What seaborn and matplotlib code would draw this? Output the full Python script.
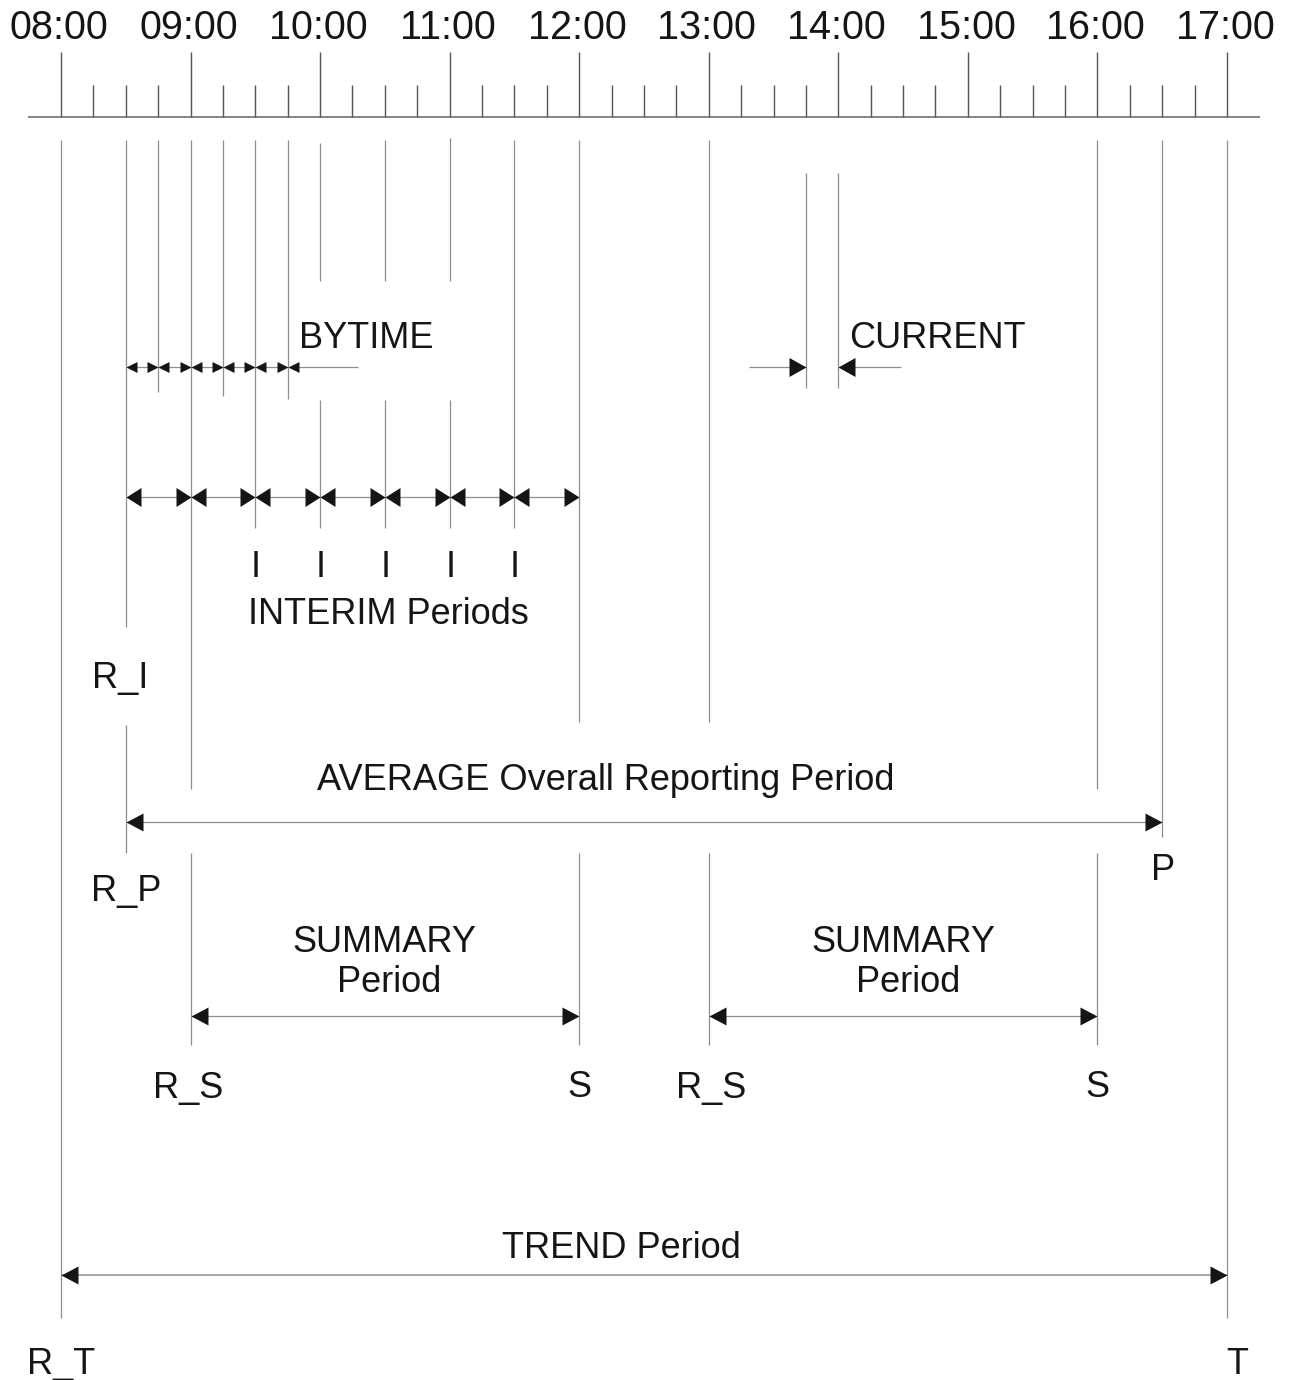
import numpy as np
import matplotlib
matplotlib.use("Agg")
import matplotlib.pyplot as plt
import seaborn as sns

# ---------------- data ----------------
hour_labels = ["08:00", "09:00", "10:00", "11:00", "12:00",
               "13:00", "14:00", "15:00", "16:00", "17:00"]
hour_values = [8, 9, 10, 11, 12, 13, 14, 15, 16, 17]
minor_ticks = [8 + q / 4 for q in range(37) if q % 4 != 0]

bytime_bounds = [8.5, 8.75, 9.0, 9.25, 9.5, 9.75]
bytime_tail = 10.29
interim_bounds = [8.5, 9.0, 9.5, 10.0, 10.5, 11.0, 11.5, 12.0]
interim_labels = [9.5, 10.0, 10.5, 11.0, 11.5]
current_bounds = [13.75, 14.0]
current_tails = [13.31, 14.48]
average_period = (8.5, 16.5)
summary_periods = [(9.0, 12.0), (13.0, 16.0)]
trend_period = (8.0, 17.0)

# guide lines: time -> vertical segments (pixel rows from top)
guides = {
    8.0: [(140, 1318)],
    8.5: [(140, 627), (725, 853)],
    8.75: [(140, 392)],
    9.0: [(140, 789), (853, 1045)],
    9.25: [(140, 396)],
    9.5: [(140, 528)],
    9.75: [(140, 399)],
    10.0: [(143, 281), (400, 528)],
    10.5: [(140, 281), (400, 528)],
    11.0: [(138, 281), (400, 528)],
    11.5: [(140, 528)],
    12.0: [(140, 722), (853, 1045)],
    13.0: [(140, 722), (853, 1045)],
    13.75: [(173, 388)],
    14.0: [(173, 388)],
    16.0: [(140, 789), (853, 1045)],
    16.5: [(140, 837)],
    17.0: [(140, 1318)],
}

# ---------------- style ----------------
sns.set_theme(style="white")
plt.rcParams["font.family"] = ["Liberation Sans", "DejaVu Sans"]

W, H = 1291, 1380
fig = plt.figure(figsize=(W / 100, H / 100), dpi=100)
ax = fig.add_axes([0, 0, 1, 1])
PPH = (1227 - 61) / 9.0   # pixels per hour
X0 = 61
FS = 26


def t2x_lim(px):
    return 8 + (px - X0) / PPH


ax.set_xlim(t2x_lim(0), t2x_lim(W))
ax.set_ylim(H, 0)
ax.axis("off")

LINE = "#8f8f8f"
TICK = "#555555"
HEAD = "#151515"
TXT = "#151515"

# timeline
ax.hlines(117, t2x_lim(28), t2x_lim(1260), color="#7a7a7a", lw=1.3)
ax.vlines(hour_values, 52, 117, color=TICK, lw=1.0)
ax.vlines(minor_ticks, 85, 117, color=TICK, lw=1.0)
for lab, v in zip(hour_labels, hour_values):
    ax.text(v - 0.015, 39, lab, ha="center", va="baseline", fontsize=28.5, color=TXT)

# guides
for t, segs in guides.items():
    for y0, y1 in segs:
        ax.vlines(t, y0, y1, color=LINE, lw=0.9)


def head(x, y, direction, length_px, half_px):
    # tip located at (x, y)
    L = length_px
    h = half_px
    s = 1 if direction == "right" else -1
    verts = [(0, 0), (-s * L, h), (-s * L, -h), (0, 0)]
    ms = 2 * max(L, h) * 72 / 100
    ax.plot([x], [y], marker=verts, markersize=ms, color=HEAD,
            markeredgewidth=0, linestyle="none", zorder=5)


def dbl(x0, x1, y, L=16, h=9, lw=0.9):
    ax.hlines(y, x0, x1, color=LINE, lw=lw)
    head(x0, y, "left", L, h)
    head(x1, y, "right", L, h)


# BYTIME
yb = 367
ax.hlines(yb, bytime_bounds[0], bytime_tail, color=LINE, lw=0.9)
for i, b in enumerate(bytime_bounds):
    head(b, yb, "left", 11, 5.5)
    if i > 0:
        head(b, yb, "right", 11, 5.5)
ax.text(t2x_lim(299), 348, "BYTIME", ha="left", va="baseline", fontsize=FS, color=TXT)

# CURRENT
ax.hlines(yb, current_tails[0], current_bounds[0], color=LINE, lw=0.9)
ax.hlines(yb, current_bounds[1], current_tails[1], color=LINE, lw=0.9)
head(current_bounds[0], yb, "right", 17, 9.5)
head(current_bounds[1], yb, "left", 17, 9.5)
ax.text(t2x_lim(849), 348, "CURRENT", ha="left", va="baseline", fontsize=FS, color=TXT)

# INTERIM
yi = 497
for a, b in zip(interim_bounds[:-1], interim_bounds[1:]):
    dbl(a, b, yi, L=15, h=9.5)
for v in interim_labels:
    ax.text(v + 0.005, 577, "I", ha="center", va="baseline", fontsize=FS, color=TXT)
ax.text(10.53, 624, "INTERIM Periods", ha="center", va="baseline", fontsize=FS, color=TXT)
ax.text(8.46, 688, "R_I", ha="center", va="baseline", fontsize=FS, color=TXT)

# AVERAGE
dbl(average_period[0], average_period[1], 822, L=17, h=9)
ax.text(t2x_lim(605.5), 790, "AVERAGE Overall Reporting Period", ha="center",
        va="baseline", fontsize=FS, color=TXT)
ax.text(average_period[0], 901, "R_P", ha="center", va="baseline", fontsize=FS, color=TXT)
ax.text(average_period[1] + 0.01, 880, "P", ha="center", va="baseline", fontsize=FS, color=TXT)

# SUMMARY
for (a, b) in summary_periods:
    dbl(a, b, 1016, L=17, h=9)
    mid = (a + b) / 2
    ax.text(mid, 952, "SUMMARY", ha="center", va="baseline", fontsize=FS, color=TXT)
    ax.text(mid + 0.035, 992, "Period", ha="center", va="baseline", fontsize=FS, color=TXT)
    ax.text(a + 0.02 * (1 if a > 10 else -1), 1098, "R_S", ha="center", va="baseline",
            fontsize=FS, color=TXT)
    ax.text(b, 1097, "S", ha="center", va="baseline", fontsize=FS, color=TXT)

# TREND
dbl(trend_period[0], trend_period[1], 1275, L=17, h=9, lw=1.1)
ax.text(t2x_lim(621), 1258, "TREND Period", ha="center", va="baseline",
        fontsize=FS, color=TXT)
ax.text(trend_period[0], 1374, "R_T", ha="center", va="baseline", fontsize=FS, color=TXT)
ax.text(trend_period[1] + 0.08, 1374, "T", ha="center", va="baseline", fontsize=FS, color=TXT)

fig.savefig("out.png", dpi=100, facecolor="white")
